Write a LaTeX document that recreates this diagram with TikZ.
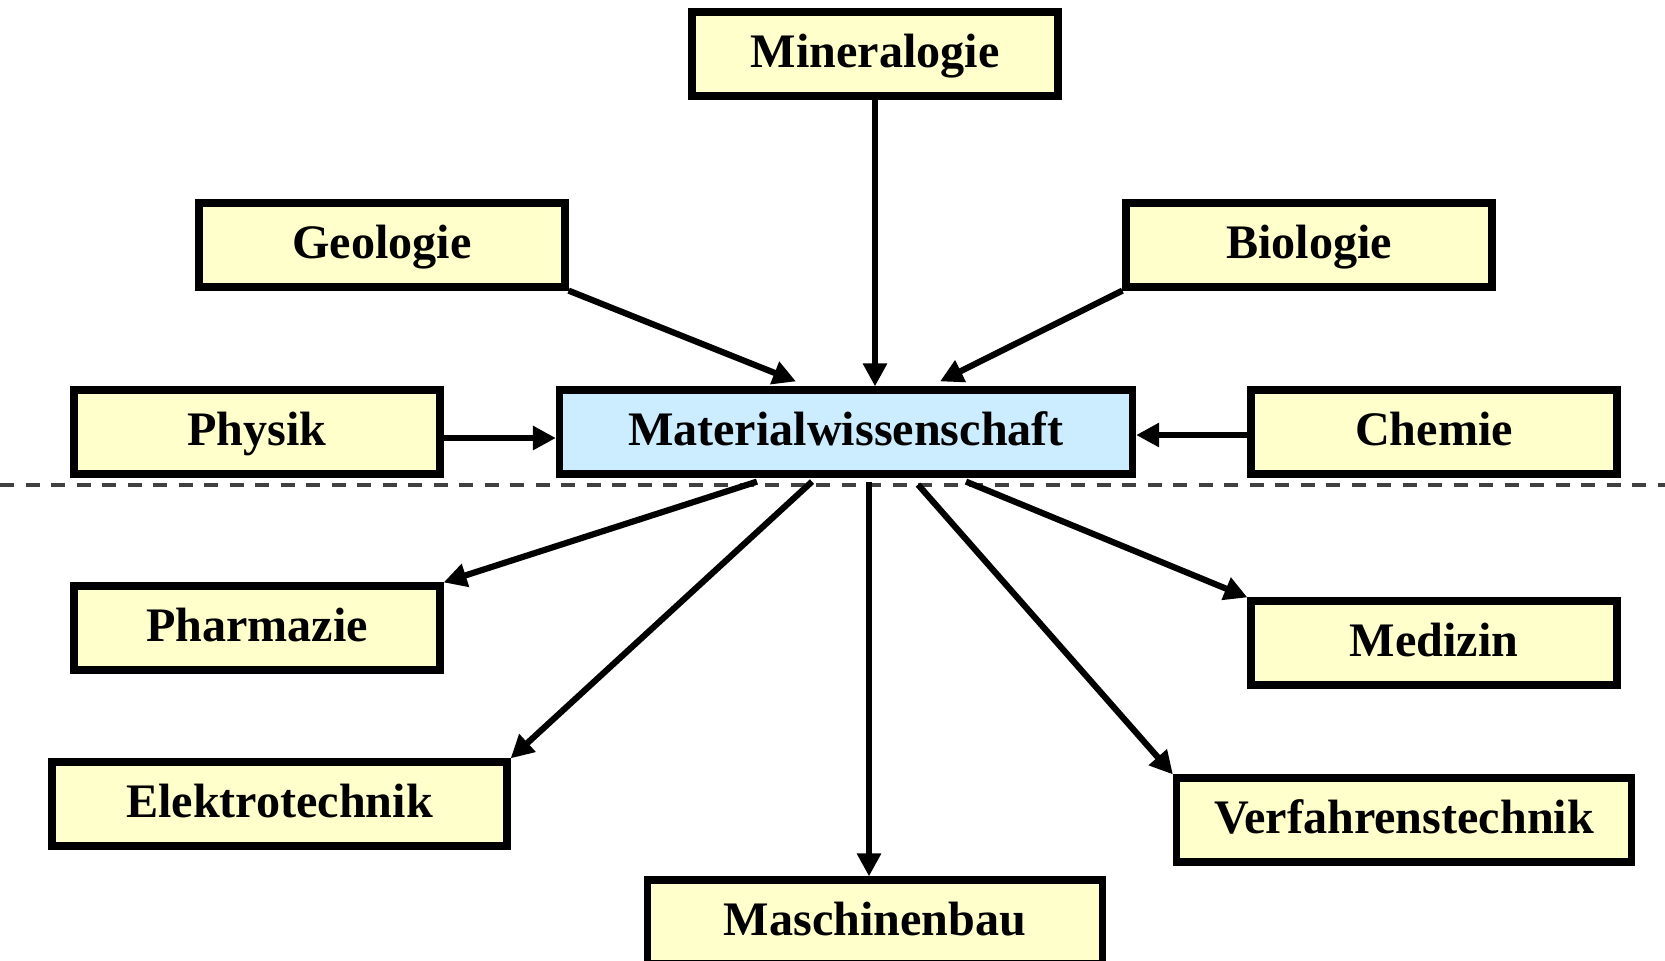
\documentclass[tikz,border=0pt]{standalone}
\usepackage{fontspec}
\setmainfont{Liberation Serif}
\usetikzlibrary{arrows.meta, positioning, calc}
\definecolor{fieldyellow}{RGB}{255,255,204}
\definecolor{coreblue}{RGB}{204,236,255}
\definecolor{sepgray}{RGB}{64,64,64}

\begin{document}
\begin{tikzpicture}[auto, node distance=2cm, >={Triangle[length=2.3mm, width=2.3mm]}]

		% Define styles
		\tikzstyle{field} = [rectangle, draw, line width=0.072cm, fill=fieldyellow, text centered, minimum width=3.66cm, minimum height=0.84cm, text height=0.36cm, text depth=0.09cm, font=\bfseries\fontsize{13.7pt}{16pt}\selectfont]
		\tikzstyle{widefield} = [field, minimum width=4.55cm]
		\tikzstyle{core} = [field, fill=coreblue, minimum width=5.73cm]
		\tikzstyle{link} = [->, line width=0.062cm]
		\tikzstyle{border} = [draw=sepgray, line width=0.04cm, dash pattern=on 0.14cm off 0.115cm]

		\useasboundingbox (0,0) rectangle (16.65,-9.6);

		% Nodes
		\node[core] (mw) at (8.46,-4.32) {Materialwissenschaft};
		\node[field, left of=mw, node distance=5.89cm] (phy) {Physik};
		\node[field, right of=mw, node distance=5.88cm] (che) {Chemie};
		\node[field] (min) at (8.75,-0.54) {Mineralogie};
		\node[field] (geo) at (3.82,-2.45) {Geologie};
		\node[field] (bio) at (13.09,-2.45) {Biologie};
		\node[field, below of=phy, node distance=1.96cm] (pha) {Pharmazie};
		\node[field, below of=che, node distance=2.11cm] (med) {Medizin};
		\node[widefield] (ele) at (2.795,-8.04) {Elektrotechnik};
		\node[widefield] (ver) at (14.04,-8.2) {Verfahrenstechnik};
		\node[widefield] (mas) at (8.75,-9.22) {Maschinenbau};

		% Separator
		\draw[border] (0,-4.85) -- (16.65,-4.85);

		% Arrows in
		\coordinate (t1) at ($(mw.north)+(-0.5,0.05)$);
		\coordinate (t2) at ($(mw.north)+(0.94,0.05)$);
		\draw[link] (min.south) -- (min.south |- mw.north);
		\draw[link] (geo.south east) -- (t1);
		\draw[link] (bio.south west) -- (t2);
		\draw[link] ([yshift=-0.6mm]phy.east) -- ([yshift=-0.6mm]mw.west);
		\draw[link] ([yshift=-0.3mm]che.west) -- ([yshift=-0.3mm]mw.east);

		% Arrows out
		\coordinate (s1) at ($(mw.south)+(-0.89,-0.04)$);
		\coordinate (s2) at ($(mw.south)+(-0.34,-0.04)$);
		\coordinate (s3) at ($(mw.south)+(0.23,-0.04)$);
		\coordinate (s4) at ($(mw.south)+(0.72,-0.07)$);
		\coordinate (s5) at ($(mw.south)+(1.2,-0.04)$);
		\draw[link] (s1) -- (pha.north east);
		\draw[link] (s2) -- (ele.north east);
		\draw[link] (s3) -- (s3 |- mas.north);
		\draw[link] (s4) -- (ver.north west);
		\draw[link] (s5) -- (med.north west);

	\end{tikzpicture}
\end{document}
